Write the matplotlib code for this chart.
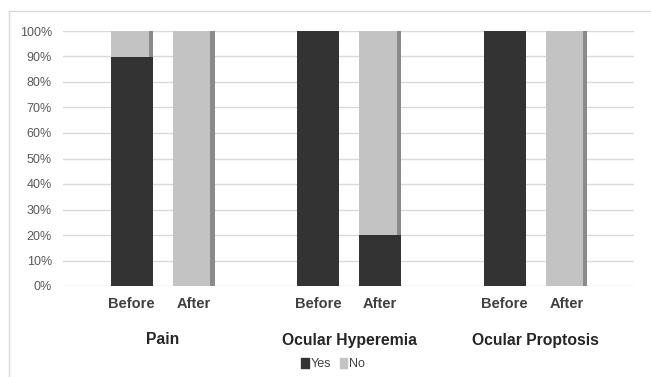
import numpy as np
import matplotlib.pyplot as plt
from matplotlib.patches import Patch
from matplotlib.lines import Line2D
import matplotlib.transforms as mtransforms

plt.rcParams['font.family'] = ['Liberation Sans', 'DejaVu Sans']

groups = ['Pain', 'Ocular Hyperemia', 'Ocular Proptosis']
stages = ['Before', 'After']
yes_before = [90, 100, 100]
yes_after = [0, 20, 0]

dark = '#333333'
light = '#c3c3c3'
side = '#8a8a8a'
grid = '#d9d9d9'

fig = plt.figure(figsize=(6.51, 3.77), dpi=100)
ax = fig.add_axes([63/651, 91/377, 571/651, 255/377])

x = np.arange(len(groups))
off = 0.166
w = 0.225
sw = 0.022  # darker strip on the right of the grey segments

for pos, yes in [(x - off, yes_before), (x + off, yes_after)]:
    yes = np.array(yes)
    no = 100 - yes
    ax.bar(pos, yes, w, color=dark, zorder=3)
    ax.bar(pos, no, w, bottom=yes, color=light, zorder=3)
    ax.bar(pos + w/2 - sw/2, no, sw, bottom=yes, color=side, zorder=4)

ax.set_xlim(-0.534, 2.528)
ax.set_ylim(0, 100)
ax.set_yticks(np.arange(0, 101, 10))
ax.set_yticklabels([f'{v}%' for v in range(0, 101, 10)])
ax.grid(axis='y', color=grid, lw=1, zorder=0)
for s in ax.spines.values():
    s.set_visible(False)

ticks = np.concatenate([x - off, x + off])
labels = [stages[0]] * 3 + [stages[1]] * 3
ax.set_xticks(ticks)
ax.set_xticklabels(labels, fontsize=10.5, fontweight='bold', color='#404040')
ax.tick_params(axis='x', length=0, pad=8)
ax.tick_params(axis='y', length=0, pad=8, labelsize=9, labelcolor='#595959')

trans = mtransforms.blended_transform_factory(ax.transData, fig.transFigure)
for i, g in enumerate(groups):
    ax.text(x[i], 1 - 340/377, g, transform=trans, ha='center', va='center',
            fontsize=11.3, fontweight='bold', color='#262626')

handles = [Patch(color=dark, label='Yes'), Patch(color=light, label='No')]
fig.legend(handles=handles, loc='center', bbox_to_anchor=(333/651, 1 - 364/377),
           ncol=2, frameon=False, fontsize=9, handlelength=0.6, handleheight=0.8,
           handletextpad=0.15, columnspacing=0.7, labelcolor='#404040')

# chart frame
fig.add_artist(Line2D([9/651, 1], [1 - 11/377] * 2, color=grid, lw=1))
fig.add_artist(Line2D([9/651] * 2, [0, 1 - 11/377], color=grid, lw=1))

fig.savefig('out.png', dpi=100)
